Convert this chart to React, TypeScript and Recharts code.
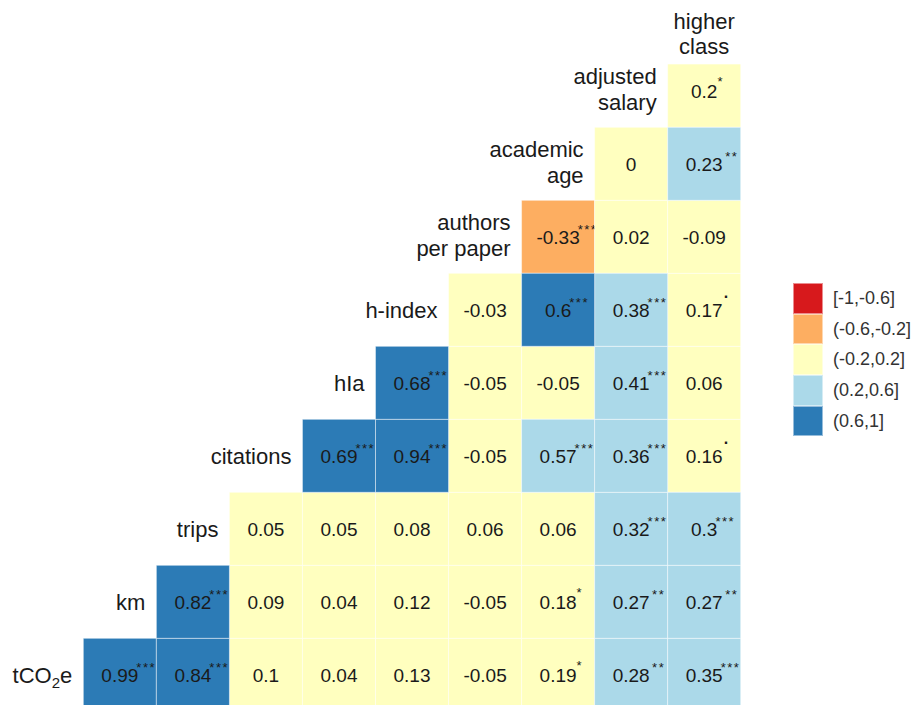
import React from "react";
import { ScatterChart, Scatter, XAxis, YAxis, Legend } from "recharts";

// variables in matrix order, bottom row first ("\n" = line break in the label)
const variables = [
  "tCO2e",
  "km",
  "trips",
  "citations",
  "hIa",
  "h-index",
  "authors\nper paper",
  "academic\nage",
  "adjusted\nsalary",
  "higher\nclass",
];

// lower triangle: row i holds cor(variables[i], variables[j]) for j > i
const correlations: number[][] = [
  [0.99, 0.84, 0.1, 0.04, 0.13, -0.05, 0.19, 0.28, 0.35],
  [0.82, 0.09, 0.04, 0.12, -0.05, 0.18, 0.27, 0.27],
  [0.05, 0.05, 0.08, 0.06, 0.06, 0.32, 0.3],
  [0.69, 0.94, -0.05, 0.57, 0.36, 0.16],
  [0.68, -0.05, -0.05, 0.41, 0.06],
  [-0.03, 0.604, 0.38, 0.17], // 0.6 shown, but binned as (0.6,1]
  [-0.33, 0.02, -0.09],
  [0, 0.23],
  [0.2],
];

const significance: string[][] = [
  ["***", "***", "", "", "", "", "*", "**", "***"],
  ["***", "", "", "", "", "*", "**", "**"],
  ["", "", "", "", "", "***", "***"],
  ["***", "***", "", "***", "***", "."],
  ["***", "", "", "***", ""],
  ["", "***", "***", "."],
  ["***", "", ""],
  ["", "**"],
  ["*"],
];

const binLabels = ["[-1,-0.6]", "(-0.6,-0.2]", "(-0.2,0.2]", "(0.2,0.6]", "(0.6,1]"];
const binUpper = [-0.6, -0.2, 0.2, 0.6, 1];
const binColors = ["#d7191c", "#fdae61", "#ffffbf", "#abd9e9", "#2c7bb6"];

const FONT = "'Liberation Sans', Arial, sans-serif";
const W = 911;
const H = 712;
const N = 9;
// x runs from the tCO2e label column (-1) to the last cell, y up to the header label row (N)
const X_DOMAIN = [-1, N - 0.5];
const Y_DOMAIN = [-0.5, N];
const MARGIN = { top: 9.8, right: 178.3, bottom: 8.7, left: 38.8 };
const CELL_W = (W - MARGIN.left - MARGIN.right) / (X_DOMAIN[1] - X_DOMAIN[0]);
const CELL_H = (H - MARGIN.top - MARGIN.bottom) / (Y_DOMAIN[1] - Y_DOMAIN[0]);
const NUM_SIZE = 19;
const LABEL_SIZE = 22;

const binOf = (v: number) => binUpper.findIndex((u) => v <= u);
const fmt = (v: number) => String(Math.round(v * 100) / 100);

// rough Arial advance widths for the number strings
const textWidth = (s: string, size: number) =>
  s.split("").reduce((a, c) => a + (c === "." ? 0.278 : c === "-" ? 0.333 : 0.556), 0) * size;

// star offset from the number's right edge, by number of stars
const starDx = [0, 0, 2.5, -2];
const starDy = [0, -4.5, -3, -3];

type CellDatum = { x: number; y: number; r: number; sig: string };

const cells: CellDatum[] = [];
correlations.forEach((row, i) =>
  row.forEach((r, k) => cells.push({ x: i + k, y: i, r, sig: significance[i][k] }))
);

const labelData = variables.map((name, i) =>
  i < N ? { x: i - 1, y: i, name, header: false } : { x: N - 1, y: N, name, header: true }
);

const CellShape = (props: any) => {
  const { cx, cy, payload } = props;
  const d = payload as CellDatum;
  const txt = fmt(d.r);
  const w = textWidth(txt, NUM_SIZE);
  return (
    <g>
      <rect
        x={cx - CELL_W / 2}
        y={cy - CELL_H / 2}
        width={CELL_W}
        height={CELL_H}
        fill={binColors[binOf(d.r)]}
        stroke="#ffffff"
        strokeOpacity={0.45}
        strokeWidth={1}
      />
      <text x={cx} y={cy + 6.8} textAnchor="middle" fontSize={NUM_SIZE} fill="#1a1a1a" fontFamily={FONT}>
        {txt}
      </text>
      {d.sig === "." ? (
        <text x={cx + w / 2 + 1} y={cy - 12} fontSize={16} fontWeight="bold" fill="#1a1a1a" fontFamily={FONT}>
          .
        </text>
      ) : d.sig ? (
        <text
          x={cx + w / 2 + starDx[d.sig.length]}
          y={cy + starDy[d.sig.length]}
          fontSize={13}
          letterSpacing={1.5}
          fill="#1a1a1a"
          fontFamily={FONT}
        >
          {d.sig}
        </text>
      ) : null}
    </g>
  );
};

const LabelShape = (props: any) => {
  const { cx, cy, payload } = props;
  const lines: string[] = payload.name.split("\n");
  if (payload.header) {
    return (
      <g>
        <rect x={cx - CELL_W / 2 - 1} y={cy - CELL_H / 2} width={CELL_W + 2} height={CELL_H + 10} fill="#ffffff" />
        {lines.map((l, k) => (
          <text key={k} x={cx} y={cy + 11.5 + k * 24.5} textAnchor="middle" fontSize={LABEL_SIZE} fill="#1a1a1a" fontFamily={FONT}>
            {l}
          </text>
        ))}
      </g>
    );
  }
  const x = cx + CELL_W / 2 - 11;
  if (payload.name === "tCO2e") {
    return (
      <text x={x} y={cy + 7.8} textAnchor="end" fontSize={LABEL_SIZE} fill="#1a1a1a" fontFamily={FONT}>
        tCO
        <tspan dy={5} fontSize={15}>2</tspan>
        <tspan dy={-5}>e</tspan>
      </text>
    );
  }
  const y0 = lines.length === 1 ? cy + 7.8 : cy - 6.5;
  return (
    <g>
      {lines.map((l, k) => (
        <text key={k} x={x} y={y0 + k * 26} textAnchor="end" fontSize={LABEL_SIZE} fill="#1a1a1a" fontFamily={FONT}>
          {l}
        </text>
      ))}
    </g>
  );
};

const renderLegend = (props: any) => {
  const items = (props.payload || [])
    .filter((e: any) => binLabels.includes(e.value))
    .sort((a: any, b: any) => binLabels.indexOf(a.value) - binLabels.indexOf(b.value));
  return (
    <div style={{ fontFamily: FONT }}>
      {items.map((e: any) => (
        <div key={e.value} style={{ display: "flex", alignItems: "center", height: 30.7 }}>
          <span
            style={{
              display: "inline-block",
              width: 30,
              height: 30.7,
              boxSizing: "border-box",
              background: e.color,
              border: "1px solid rgba(255,255,255,0.5)",
            }}
          />
          <span style={{ marginLeft: 10, fontSize: 18, color: "#333333", whiteSpace: "nowrap" }}>{e.value}</span>
        </div>
      ))}
    </div>
  );
};

export default function App() {
  return (
    <div style={{ width: W, height: H, fontFamily: FONT }}>
      <ScatterChart width={W} height={H} margin={MARGIN}>
        <XAxis type="number" dataKey="x" domain={X_DOMAIN} hide />
        <YAxis type="number" dataKey="y" domain={Y_DOMAIN} hide />
        {binLabels.map((b, k) => (
          <Scatter
            key={b}
            name={b}
            data={cells.filter((c) => binOf(c.r) === k)}
            fill={binColors[k]}
            shape={CellShape}
            isAnimationActive={false}
          />
        ))}
        <Scatter
          name="labels"
          data={labelData}
          fill="#1a1a1a"
          legendType="none"
          shape={LabelShape}
          isAnimationActive={false}
        />
        <Legend
          layout="vertical"
          align="center"
          verticalAlign="middle"
          wrapperStyle={{ left: 785, top: 275, width: 130 }}
          content={renderLegend}
        />
      </ScatterChart>
    </div>
  );
}
